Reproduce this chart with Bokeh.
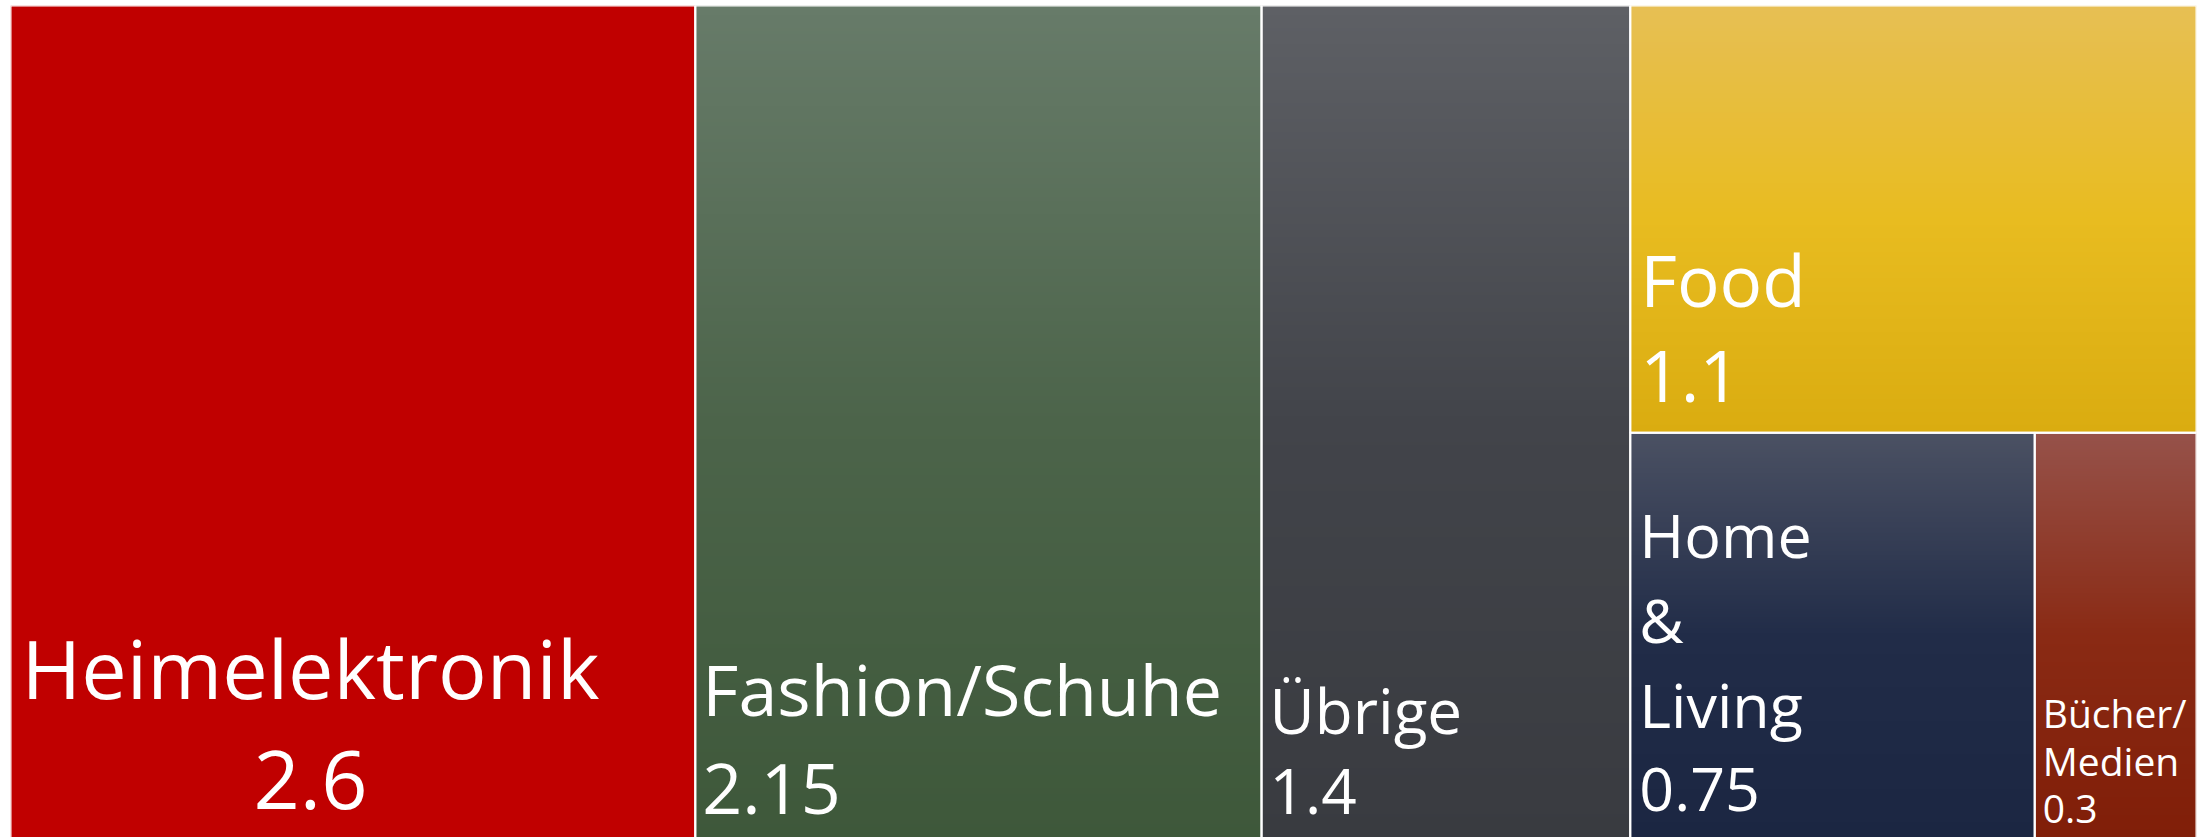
import numpy as np
from bokeh.plotting import figure
from bokeh.models import ColumnDataSource, Range1d
from bokeh.embed import file_html
from bokeh.resources import INLINE
from bokeh.core.properties import value, field

# ---------------- data ----------------
categories = ["Heimelektronik", "Fashion/Schuhe", "Übrige", "Food", "Home & Living", "Bücher/Medien"]
values = [2.6, 2.15, 1.4, 1.1, 0.75, 0.3]
value_labels = ["2.6", "2.15", "1.4", "1.1", "0.75", "0.3"]

# ---------------- styles ----------------
# how the category names wrap inside their cells
label_lines = [["Heimelektronik"], ["Fashion/Schuhe"], ["Übrige"], ["Food"],
               ["Home", "&", "Living"], ["Bücher/", "Medien"]]
# gradient colour stops (top, middle, bottom)
gradient_stops = [
    [(192, 0, 0), (192, 0, 0), (192, 0, 0)],
    [(103, 123, 105), (76, 100, 74), (62, 88, 58)],
    [(94, 96, 101), (66, 68, 74), (57, 59, 64)],
    [(231, 191, 84), (232, 188, 32), (218, 172, 16)],
    [(75, 81, 99), (33, 44, 72), (27, 38, 66)],
    [(150, 82, 74), (138, 42, 20), (128, 30, 8)],
]
stop_pos = [0.0, 0.5, 1.0]
font_px = [81, 70, 62, 71, 61, 39]
line_gap_px = [113, 100, 82, 97, 85, 48]
bottom_gap_px = [28, 24, 24, 28, 27, 16]
baseline_fix_em = 0.4
pad_px = [300, 7, 8, 10, 9, 8]
align = ["center", "left", "left", "left", "left", "left"]

# slice-and-dice nesting (alternating horizontal / vertical splits)
layout_tree = [0, 1, 2, [3, [4, 5]]]

# ---------------- layout ----------------
def total(node):
    return values[node] if isinstance(node, int) else sum(total(n) for n in node)

rects = {}

def place(node, x0, x1, y0, y1, horizontal):
    if isinstance(node, int):
        rects[node] = (x0, x1, y0, y1)
        return
    s = sum(total(n) for n in node)
    if horizontal:
        cur = x0
        for n in node:
            w = (x1 - x0) * total(n) / s
            place(n, cur, cur + w, y0, y1, not horizontal)
            cur += w
    else:
        cur = y1
        for n in node:
            h = (y1 - y0) * total(n) / s
            place(n, x0, x1, cur - h, cur, not horizontal)
            cur -= h

TOTAL = sum(values)
place(layout_tree, 0.0, TOTAL, 0.0, 1.0, True)

# ---------------- figure ----------------
W, H = 2206, 837
# treemap spans page px 5..840 vertically; frame spans page px 5..837
tm_top, tm_bot, fr_top, fr_bot = 5.0, 840.0, 5.0, 837.0
span = tm_bot - tm_top
y_start = (tm_bot - fr_bot) / span
y_end = (tm_bot - fr_top) / span

p = figure(width=W, height=H, output_backend="svg", toolbar_location=None,
           x_range=Range1d(0, TOTAL), y_range=Range1d(y_start, y_end),
           x_axis_location=None, y_axis_location=None,
           min_border_left=10, min_border_right=10, min_border_top=5, min_border_bottom=0)
p.grid.visible = False
p.outline_line_color = None
p.background_fill_color = "white"
p.border_fill_color = "white"

N = 256

def gradient_image(stops):
    t = np.linspace(0, 1, N)  # 0 = top
    cols = np.stack([np.interp(t, stop_pos, [c[i] for c in stops]) for i in range(3)], axis=1)
    cols = cols[::-1]  # row 0 is the bottom of the image
    img = np.empty((N, 1), dtype=np.uint32)
    view = img.view(dtype=np.uint8).reshape((N, 1, 4))
    view[:, 0, 0:3] = np.round(cols).astype(np.uint8)
    view[:, 0, 3] = 255
    return img

idx = list(range(len(categories)))
p.image_rgba(image=[gradient_image(gradient_stops[i]) for i in idx],
             x=[rects[i][0] for i in idx], y=[rects[i][2] for i in idx],
             dw=[rects[i][1] - rects[i][0] for i in idx],
             dh=[rects[i][3] - rects[i][2] for i in idx])

src = ColumnDataSource(dict(
    left=[rects[i][0] for i in idx], right=[rects[i][1] for i in idx],
    bottom=[rects[i][2] for i in idx], top=[rects[i][3] for i in idx],
    cat=categories, val=values))
p.quad(left="left", right="right", bottom="bottom", top="top", source=src,
       fill_alpha=0, line_color="white", line_width=2)

# ---------------- labels ----------------
for a in ("center", "left"):
    d = dict(x=[], y=[], text=[], xo=[], yo=[], fs=[])
    for i in idx:
        if align[i] != a:
            continue
        lines = label_lines[i] + [value_labels[i]]
        n = len(lines)
        for j, line in enumerate(lines):
            k = n - 1 - j
            d["x"].append(rects[i][0])
            d["y"].append(rects[i][2])
            d["text"].append(line)
            d["xo"].append(pad_px[i])
            d["yo"].append(-(bottom_gap_px[i] + k * line_gap_px[i] + baseline_fix_em * font_px[i]))
            d["fs"].append(f"{font_px[i]}px")
    p.text(x="x", y="y", text="text", x_offset="xo", y_offset="yo",
           source=ColumnDataSource(d), text_font_size=field("fs"),
           text_font=value("Open Sans"), text_color="white",
           text_align=a, text_baseline="alphabetic")

open("out.html", "w").write(file_html(p, INLINE))
